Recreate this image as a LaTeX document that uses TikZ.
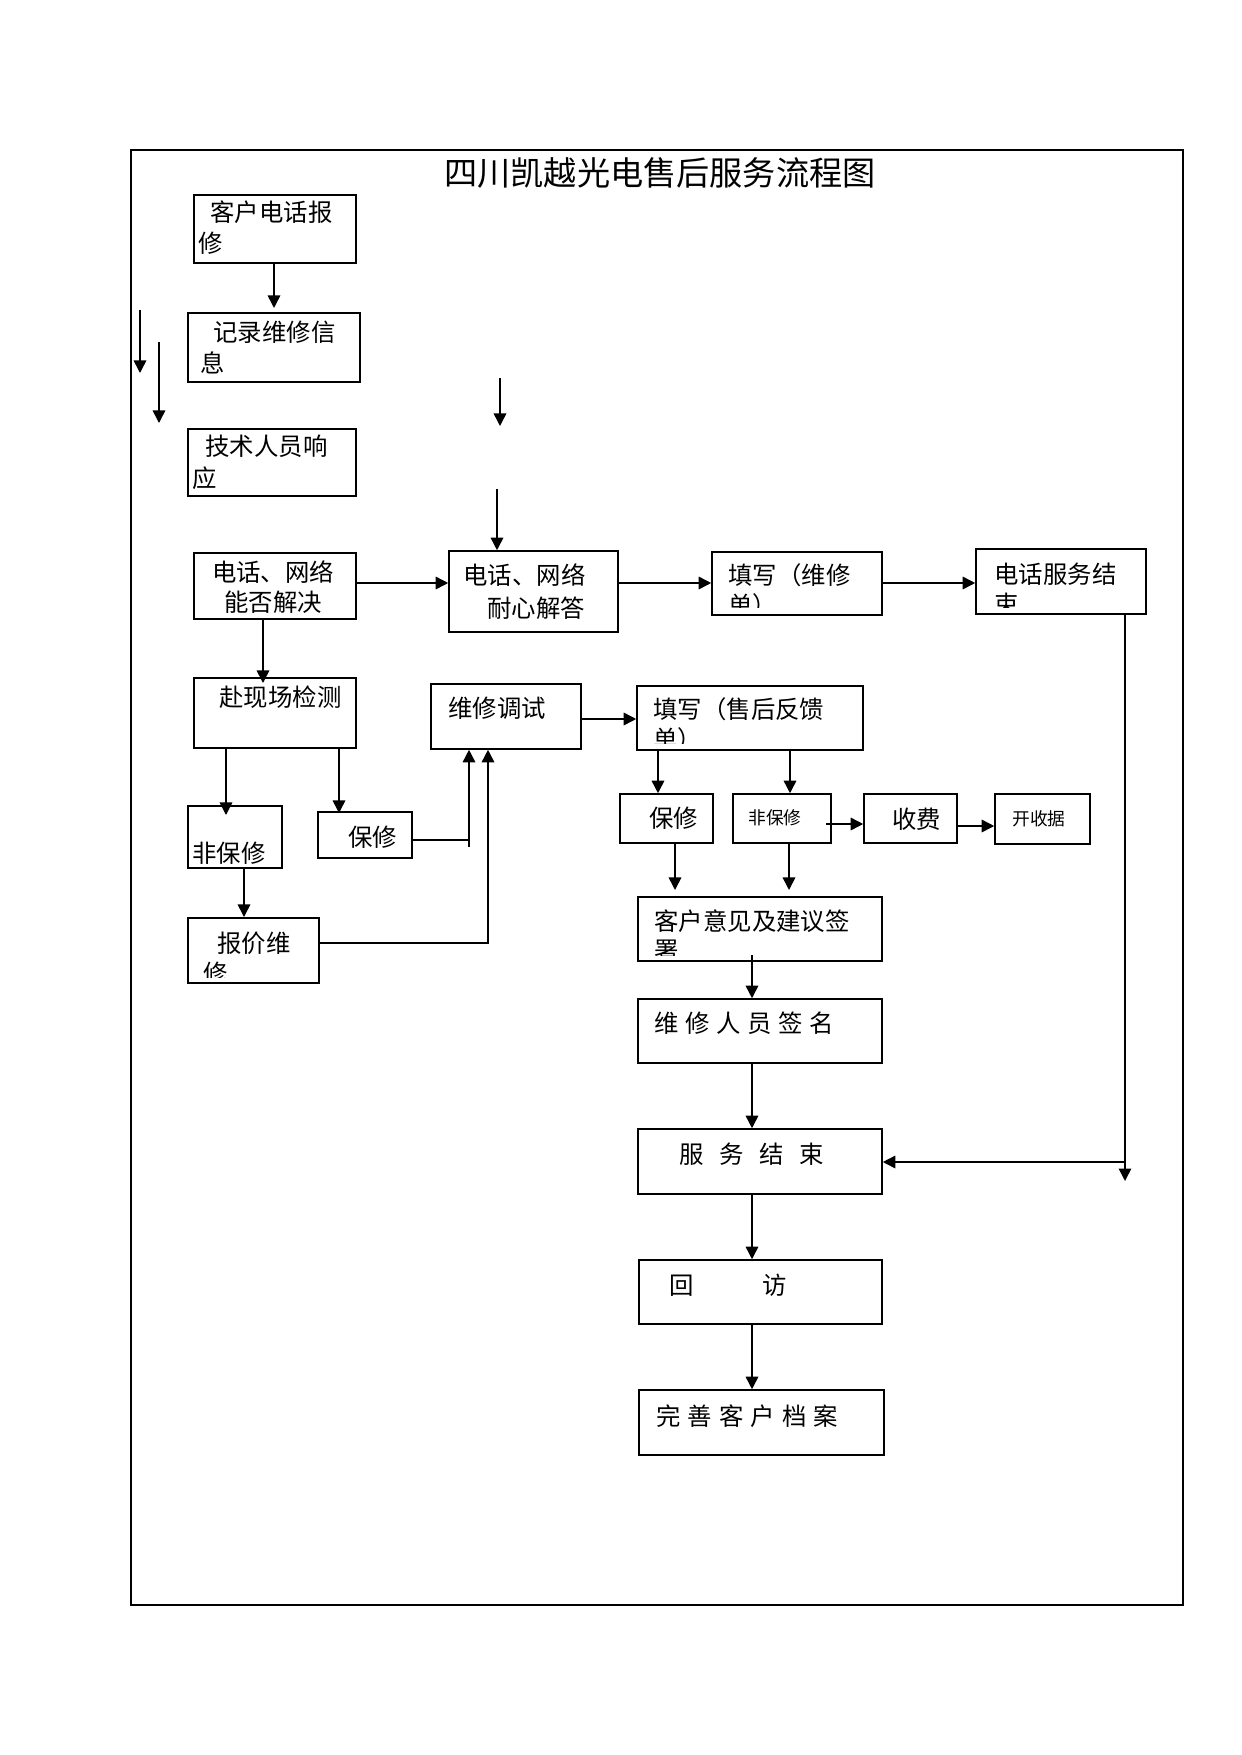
\documentclass[tikz,border=0pt]{standalone}
\usepackage{fontspec}
\setmainfont{Noto Sans CJK SC}
\usetikzlibrary{arrows.meta,fit}
\begin{document}
\begin{tikzpicture}[x=0.4795pt,y=-0.4795pt,
  box/.style={draw, line width=0.75pt, inner sep=0pt},
  txt/.style={anchor=west, inner sep=0pt, font=\fontsize{11.7}{14}\selectfont},
  ctxt/.style={anchor=center, inner sep=0pt, font=\fontsize{11.7}{14}\selectfont},
  smalltxt/.style={anchor=west, inner sep=0pt, font=\fontsize{8.5}{10}\selectfont},
  arr/.style={-{Triangle[length=6pt,width=6pt]}, line width=0.75pt},
  ln/.style={line width=0.75pt}]
\useasboundingbox (0,0) rectangle (1241,1755);
% frame
\draw[line width=0.5pt] (131,150) rectangle (1183,1605);
\node[anchor=center, inner sep=0pt, font=\fontsize{15.9}{18}\selectfont] (title) at (660,173) {四川凯越光电售后服务流程图};

% boxes
\node[box, fit={(194,195) (356,263)}] (A) {};
\node[box, fit={(188,313) (360,382)}] (B) {};
\node[box, fit={(188,429) (356,496)}] (C) {};
\node[box, fit={(194,553) (356,619)}] (D) {};
\node[box, fit={(449,551) (618,632)}] (E) {};
\node[box, fit={(712,552) (882,615)}] (F) {};
\node[box, fit={(976,549) (1146,614)}] (G) {};
\node[box, fit={(194,678) (356,748)}] (H) {};
\node[box, fit={(431,684) (581,749)}] (I) {};
\node[box, fit={(637,686) (863,750)}] (J) {};
\node[box, fit={(188,806) (282,868)}] (K) {};
\node[box, fit={(318,812) (412,858)}] (L) {};
\node[box, fit={(188,918) (319,983)}] (M) {};
\node[box, fit={(620,794) (713,843)}] (N) {};
\node[box, fit={(733,794) (831,843)}] (O) {};
\node[box, fit={(864,794) (957,843)}] (P) {};
\node[box, fit={(995,794) (1090,844)}] (Q) {};
\node[box, fit={(638,897) (882,961)}] (R) {};
\node[box, fit={(638,999) (882,1063)}] (S) {};
\node[box, fit={(638,1129) (882,1194)}] (T) {};
\node[box, fit={(639,1260) (882,1324)}] (U) {};
\node[box, fit={(639,1390) (884,1455)}] (V) {};

% texts
\node[txt] (A1) at (210,212) {客户电话报};
\node[txt] (A2) at (198,243) {修};
\node[txt] (B1) at (213,332) {记录维修信};
\node[txt] (B2) at (200,363) {息};
\node[txt] (C1) at (205,446) {技术人员响};
\node[txt] (C2) at (192,478) {应};
\node[ctxt] (D1) at (273,572) {电话、网络};
\node[ctxt] (D2) at (273,602) {能否解决};
\node[txt] (E1) at (463,575) {电话、网络};
\node[txt] (E2) at (487,608) {耐心解答};
\node[txt] (F1) at (728,575) {填写（维修};
\begin{scope}
  \clip (712,552) rectangle (882,607);
  \node[txt] (F2) at (728,605) {单）};
\end{scope}
\node[txt] (G1) at (994,574) {电话服务结};
\begin{scope}
  \clip (976,549) rectangle (1146,607);
  \node[txt] (G2) at (994,604) {束};
\end{scope}
\node[txt] (H1) at (219,697) {赴现场检测};
\node[txt] (I1) at (448,708) {维修调试};
\node[txt] (J1) at (653,709) {填写（售后反馈};
\begin{scope}
  \clip (637,686) rectangle (863,743);
  \node[txt] (J2) at (653,739) {单）};
\end{scope}
\node[txt] (K1) at (192,853) {非保修};
\node[txt] (L1) at (348,837) {保修};
\node[txt] (M1) at (217,943) {报价维};
\begin{scope}
  \clip (188,918) rectangle (319,977);
  \node[txt] (M2) at (203,973) {修};
\end{scope}
\node[txt] (N1) at (649,818) {保修};
\node[smalltxt] (O1) at (748,818) {非保修};
\node[txt] (P1) at (892,819) {收费};
\node[smalltxt] (Q1) at (1012,819) {开收据};
\node[txt] (R1) at (654,921) {客户意见及建议签};
\begin{scope}
  \clip (638,897) rectangle (882,955);
  \node[txt] (R2) at (654,951) {署};
\end{scope}
\node[txt] (S1) at (654,1023) {维\hspace{3.2pt}修\hspace{3.2pt}人\hspace{3.2pt}员\hspace{3.2pt}签\hspace{3.2pt}名};
\node[txt] (T1) at (679,1154) {服\hspace{7.5pt}务\hspace{7.5pt}结\hspace{7.5pt}束};
\node[txt] (U1) at (669,1285) {回\hspace{32.9pt}访};
\node[txt] (V1) at (656,1416) {完\hspace{3.4pt}善\hspace{3.4pt}客\hspace{3.4pt}户\hspace{3.4pt}档\hspace{3.4pt}案};

% free-end coordinates
\coordinate (fa1) at (140,310);
\coordinate (fa2) at (140,373);
\coordinate (fb1) at (159,342);
\coordinate (fb2) at (159,423);
\coordinate (fc1) at (500,378);
\coordinate (fc2) at (500,426);
\coordinate (fd1) at (497,489);
\coordinate (xab) at (274,308);
\coordinate (xdh) at (263,683);
\coordinate (xhk) at (226,815);
\coordinate (xhl) at (339,813);
\coordinate (xkm) at (244,917);
\coordinate (lx) at (469,840);
\coordinate (mx) at (488,943);
\coordinate (yij) at (0,719);
\coordinate (xjn) at (658,890);
\coordinate (xjo) at (790,890);
\coordinate (xnr) at (675,890);
\coordinate (xor) at (789,890);
\coordinate (xop) at (826,824);
\coordinate (ypq) at (0,826);
\coordinate (xr) at (752,955);
\coordinate (gx) at (1125,1181);
\coordinate (gy) at (1125,1162);
\coordinate (ydef) at (0,583);

% connectors
\draw[arr] (A.south -| xab) -- (xab);
\draw[arr] (fa1) -- (fa2);
\draw[arr] (fb1) -- (fb2);
\draw[arr] (fc1) -- (fc2);
\draw[arr] (fd1) -- (E.north -| fd1);
\draw[arr] (D.east |- ydef) -- (E.west |- ydef);
\draw[arr] (E.east |- ydef) -- (F.west |- ydef);
\draw[arr] (F.east |- ydef) -- (G.west |- ydef);
\draw[arr] (D.south -| xdh) -- (xdh);
\draw[arr] (H.south -| xhk) -- (xhk);
\draw[arr] (H.south -| xhl) -- (xhl);
\draw[arr] (K.south -| xkm) -- (xkm);
\draw[arr] (L.east |- lx) -| (I.south -| lx);
\draw[ln] (lx) -- (469,847);
\draw[arr] (M.east |- mx) -| (I.south -| mx);
\draw[arr] (I.east |- yij) -- (J.west |- yij);
\draw[arr] (J.south -| xjn) -- (N.north -| xjn);
\draw[arr] (J.south -| xjo) -- (O.north -| xjo);
\draw[arr] (xop) -- (P.west |- xop);
\draw[arr] (P.east |- ypq) -- (Q.west |- ypq);
\draw[arr] (N.south -| xnr) -- (xnr);
\draw[arr] (O.south -| xor) -- (xor);
\draw[arr] (xr) -- (S.north -| xr);
\draw[arr] (S.south -| xr) -- (T.north -| xr);
\draw[arr] (T.south -| xr) -- (U.north -| xr);
\draw[arr] (U.south -| xr) -- (V.north -| xr);
\draw[arr] (G.south -| gx) -- (gx);
\draw[arr] (gy) -- (T.east |- gy);
\end{tikzpicture}
\end{document}
